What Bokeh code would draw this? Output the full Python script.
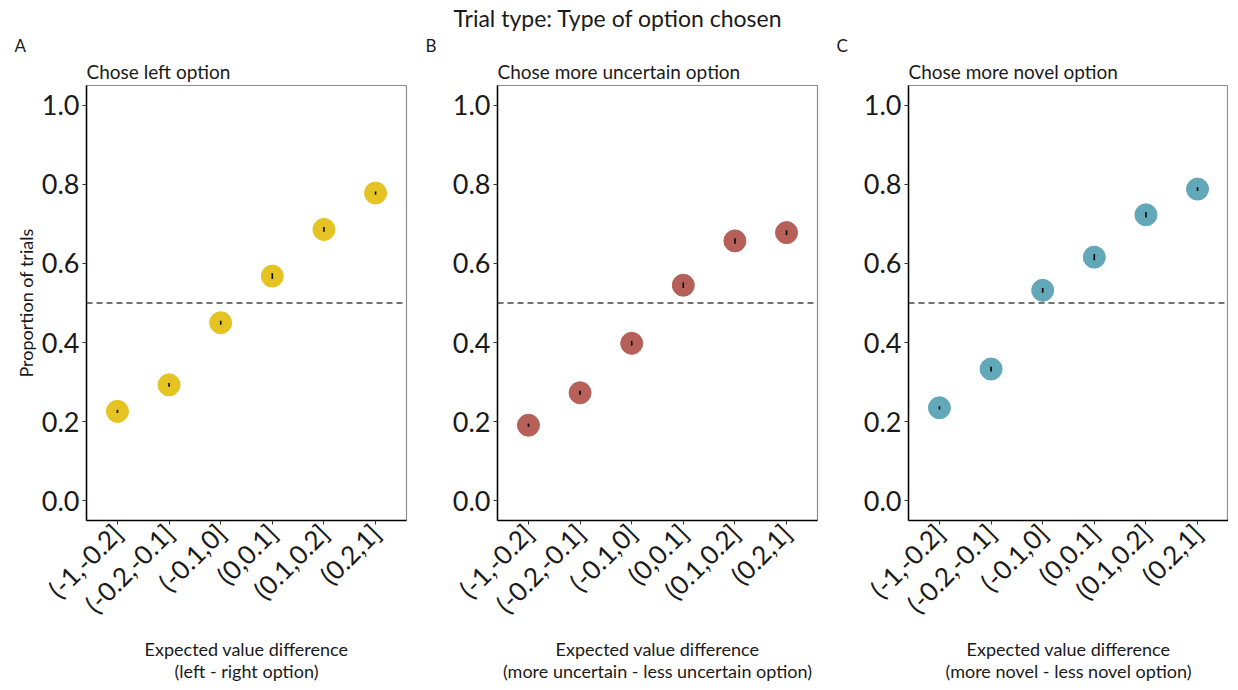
import numpy as np
from bokeh.plotting import figure
from bokeh.models import Span, Title, FixedTicker, Range1d
from bokeh.layouts import row
from bokeh.embed import file_html
from bokeh.resources import INLINE

categories = ["(-1,-0.2]", "(-0.2,-0.1]", "(-0.1,0]", "(0,0.1]", "(0.1,0.2]", "(0.2,1]"]

left_vals = [0.226, 0.293, 0.450, 0.568, 0.686, 0.778]
left_err = [0.004, 0.005, 0.005, 0.007, 0.006, 0.004]
unc_vals = [0.191, 0.273, 0.398, 0.545, 0.657, 0.678]
unc_err = [0.004, 0.005, 0.006, 0.007, 0.007, 0.006]
nov_vals = [0.235, 0.333, 0.532, 0.616, 0.723, 0.788]
nov_err = [0.004, 0.006, 0.006, 0.008, 0.007, 0.005]

y_ticks = [0.0, 0.2, 0.4, 0.6, 0.8, 1.0]

panels = [
    ("A", "Chose left option", left_vals, left_err, "#E4C322",
     "Expected value difference\n(left - right option)", True),
    ("B", "Chose more uncertain option", unc_vals, unc_err, "#B7605A",
     "Expected value difference\n(more uncertain - less uncertain option)", False),
    ("C", "Chose more novel option", nov_vals, nov_err, "#62A8B8",
     "Expected value difference\n(more novel - less novel option)", False),
]

FONT = "Lato"
TXT = "#1a1a1a"
right_borders = [5, 5, 0]
figs = []
for i, (letter, sub, vals, err, color, xlab, ylab) in enumerate(panels):
    x = np.arange(1, len(categories) + 1)
    p = figure(title=None, frame_width=320, height=684, output_backend="svg",
               toolbar_location=None, x_range=Range1d(0.4, len(categories) + 0.6),
               y_range=Range1d(-0.05, 1.05),
               min_border_left=86, min_border_right=right_borders[i],
               min_border_top=80, min_border_bottom=140)
    p.add_layout(Title(text=sub, align="left", text_font=FONT, text_font_size="19px",
                       text_font_style="normal", text_color=TXT, standoff=5), "above")
    p.add_layout(Title(text=letter, align="left", offset=-72, text_font=FONT,
                       text_font_size="17px", text_font_style="normal",
                       text_color=TXT, standoff=0), "above")
    if i == 1:
        p.add_layout(Title(text="Trial type: Type of option chosen", align="left",
                           offset=-44, text_font=FONT, text_font_size="23px",
                           text_font_style="normal", text_color=TXT, standoff=2), "above")
    p.xgrid.visible = False
    p.ygrid.visible = False
    p.outline_line_color = "#8c8c8c"
    p.outline_line_width = 1.2
    p.background_fill_color = "white"
    p.border_fill_color = "white"

    p.add_layout(Span(location=0.5, dimension="width", line_color="#444444",
                      line_dash="6 4", line_width=1.5))
    p.scatter(x, vals, size=22, color=color, line_color=color)
    lo = [v - e for v, e in zip(vals, err)]
    hi = [v + e for v, e in zip(vals, err)]
    p.segment(x0=x, y0=lo, x1=x, y1=hi, line_color="black", line_width=1.6)

    p.xaxis.ticker = FixedTicker(ticks=list(x))
    p.xaxis.major_label_overrides = {int(k): c for k, c in zip(x, categories)}
    p.xaxis.major_label_orientation = np.pi / 4
    p.xaxis.major_label_text_font = FONT
    p.xaxis.major_label_text_font_size = "26px"
    p.xaxis.major_label_text_color = TXT
    p.xaxis.major_label_standoff = 4
    p.xaxis.axis_label = xlab
    p.xaxis.axis_label_text_font = FONT
    p.xaxis.axis_label_text_font_size = "18px"
    p.xaxis.axis_label_text_font_style = "normal"
    p.xaxis.axis_label_text_color = TXT
    p.xaxis.axis_label_text_line_height = 1.0
    p.xaxis.axis_label_standoff = 4

    p.yaxis.ticker = FixedTicker(ticks=y_ticks)
    p.yaxis.major_label_overrides = {t: f"{t:.1f}" for t in y_ticks}
    p.yaxis.major_label_text_font = FONT
    p.yaxis.major_label_text_font_size = "27px"
    p.yaxis.major_label_text_color = TXT
    p.yaxis.major_label_standoff = 3
    if ylab:
        p.yaxis.axis_label = "Proportion of trials"
        p.yaxis.axis_label_text_font = FONT
        p.yaxis.axis_label_text_font_size = "18px"
        p.yaxis.axis_label_text_font_style = "normal"
        p.yaxis.axis_label_text_color = TXT
        p.yaxis.axis_label_standoff = 2

    for ax in (p.xaxis, p.yaxis):
        ax.axis_line_color = "black"
        ax.axis_line_width = 1.5
        ax.major_tick_line_color = "#333333"
        ax.major_tick_out = 4
        ax.major_tick_in = 0
        ax.minor_tick_line_color = None
    figs.append(p)

layout = row(*figs, spacing=0)
open("out.html", "w").write(file_html(layout, INLINE))
